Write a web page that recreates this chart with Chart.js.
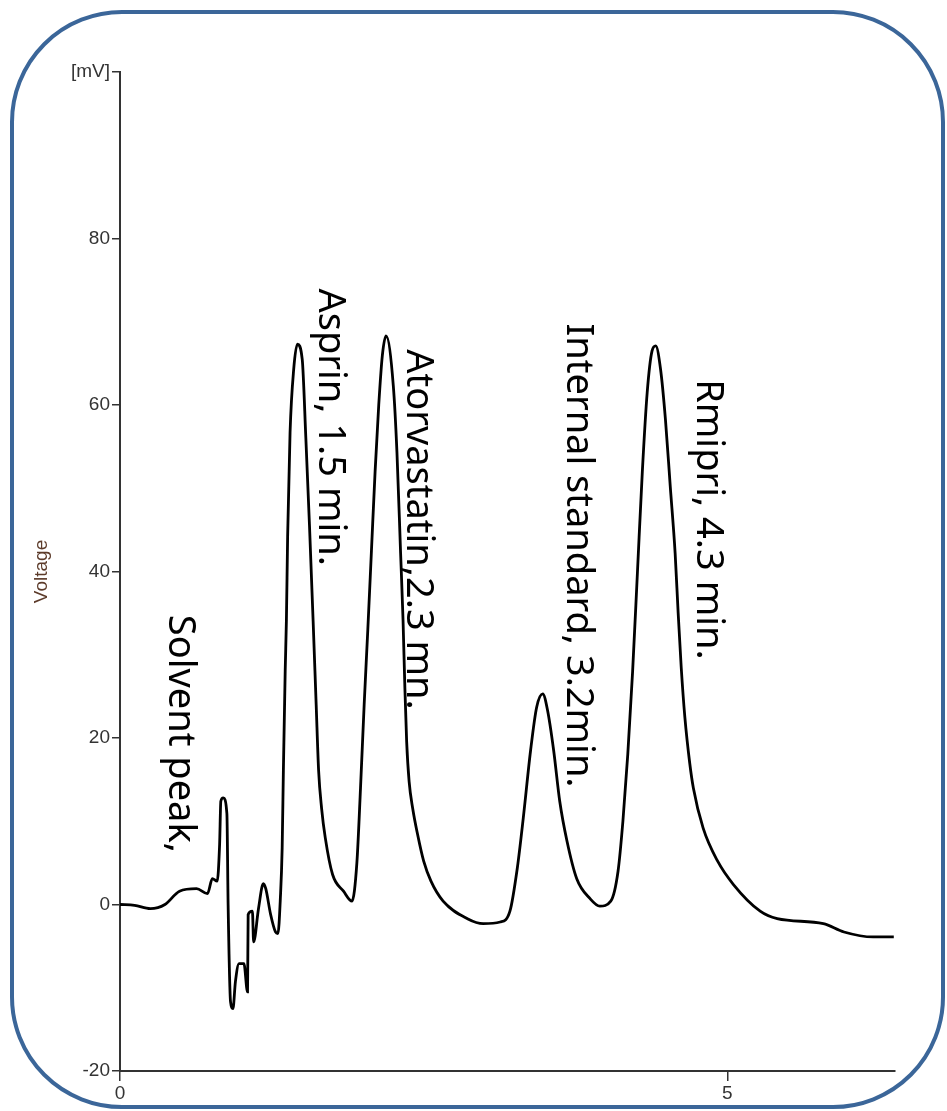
<!DOCTYPE html>
<html>
<head>
<meta charset="utf-8">
<script src="https://cdn.jsdelivr.net/npm/chart.js@4.4.0/dist/chart.umd.min.js"></script>
<style>
    html, body { margin: 0; padding: 0; background: #fff; }
    #wrap { position: relative; width: 947px; height: 1111px; }
    #marco {
        position: absolute; left: 10px; top: 10px; width: 935px; height: 1099px;
        box-sizing: border-box; border: 4px solid #3b6699; border-radius: 112px;
        pointer-events: none;
    }
</style>
</head>
<body>
<div id="wrap">
    <canvas id="grafico" width="947" height="1111"></canvas>
    <div id="marco"></div>
</div>
<script>
const tiempos = [0, 0.12, 0.25, 0.37, 0.49, 0.63, 0.72, 0.76, 0.8, 0.82, 0.83, 0.85, 0.88, 0.89, 0.91, 0.93, 0.95, 0.98, 1.02, 1.05, 1.055, 1.09, 1.1, 1.14, 1.18, 1.2, 1.24, 1.28, 1.3, 1.32, 1.335, 1.345, 1.36, 1.37, 1.38, 1.4, 1.43, 1.46, 1.5, 1.53, 1.56, 1.59, 1.615, 1.635, 1.66, 1.69, 1.75, 1.84, 1.91, 1.95, 1.98, 2.01, 2.04, 2.07, 2.1, 2.13, 2.16, 2.19, 2.25, 2.28, 2.31, 2.33, 2.345, 2.36, 2.38, 2.41, 2.45, 2.5, 2.56, 2.66, 2.86, 2.99, 3.13, 3.21, 3.27, 3.32, 3.38, 3.43, 3.48, 3.52, 3.57, 3.62, 3.68, 3.76, 3.87, 3.95, 4.04, 4.1, 4.14, 4.18, 4.22, 4.26, 4.3, 4.34, 4.38, 4.41, 4.45, 4.49, 4.53, 4.57, 4.595, 4.62, 4.65, 4.69, 4.72, 4.8, 4.92, 5.05, 5.27, 5.41, 5.79, 5.96, 6.2, 6.37];
const voltajes = [0, -0.1, -0.5, 0, 1.6, 1.9, 1.3, 3.1, 2.8, 7.2, 12.4, 12.8, 10.9, 0, -11.7, -12.5, -9.3, -7.1, -7.1, -10.5, -1.2, -0.8, -4.5, -0.5, 2.5, 1.9, -1.2, -3.3, -3.5, 0.7, 6.8, 16.1, 28.1, 34.2, 44.2, 56.7, 64.3, 67.3, 65.5, 56.0, 45.5, 34.0, 24.0, 16.1, 11.5, 8.0, 3.6, 1.6, 0.4, 5.0, 14.0, 24.0, 33.0, 42.5, 52.0, 60.0, 66.0, 68.3, 62.3, 54.3, 42.2, 34.2, 26.1, 19.5, 14.8, 11.5, 8.4, 5.2, 2.8, 0.4, -1.7, -2.3, -2.1, -0.8, 4.3, 10.4, 18.5, 23.7, 25.3, 23.3, 18.5, 12.4, 7.6, 3.1, 0.7, -0.2, 0.4, 4.0, 10.0, 18.0, 28.0, 40.0, 52.0, 61.5, 66.5, 67.1, 64.3, 58.3, 50.2, 42.2, 35.0, 28.5, 22.5, 17.0, 14.0, 9.2, 5.2, 2.4, -0.8, -1.7, -2.3, -3.3, -3.9, -3.9];

const ticksX = [0, 5];
const ticksY = [-20, 0, 20, 40, 60, 80, 100];

// anotaciones de los picos
const etiquetas = ['Solvent peak,', 'Asprin, 1.5 min.', 'Atorvastatin,2.3 mn.', 'Internal standard, 3.2min.', 'Rmipri, 4.3 min.'];
const etiquetasX = [0.49, 1.73, 2.45, 3.765, 4.84];
const etiquetasY = [34.8, 74.0, 66.7, 69.8, 63.1];

document.addEventListener('DOMContentLoaded', function() {
    const ctx = document.getElementById('grafico').getContext('2d');

    const puntos = tiempos.map((t, i) => ({ x: t, y: voltajes[i] }));

    const pluginEtiquetas = {
        id: 'etiquetas',
        afterDatasetsDraw(chart) {
            const c = chart.ctx;
            const sx = chart.scales.x;
            const sy = chart.scales.y;
            c.save();
            c.fillStyle = '#000';
            c.font = '38px "Noto Sans", "Open Sans", sans-serif';
            c.textAlign = 'left';
            c.textBaseline = 'middle';
            etiquetas.forEach((txt, i) => {
                c.save();
                c.translate(sx.getPixelForValue(etiquetasX[i]), sy.getPixelForValue(etiquetasY[i]));
                c.rotate(Math.PI / 2);
                c.fillText(txt, 0, 0);
                c.restore();
            });
            c.restore();
        }
    };

    new Chart(ctx, {
        type: 'scatter',
        data: {
            datasets: [{
                label: 'Voltage',
                data: puntos,
                showLine: true,
                borderColor: '#000',
                borderWidth: 2.8,
                pointRadius: 0,
                cubicInterpolationMode: 'monotone'
            }]
        },
        options: {
            responsive: false,
            animation: false,
            layout: { padding: { left: 0, top: 72, right: 52, bottom: 0 } },
            plugins: {
                legend: { display: false },
                tooltip: { enabled: false }
            },
            scales: {
                x: {
                    type: 'linear',
                    min: 0,
                    max: 6.38,
                    afterBuildTicks: scale => { scale.ticks = ticksX.map(v => ({ value: v })); },
                    afterFit: scale => { scale.height = 40; },
                    border: { display: true, color: '#333', width: 2 },
                    grid: { drawOnChartArea: false, drawTicks: true, tickLength: 10, color: '#333', lineWidth: 1.5 },
                    ticks: {
                        color: '#333',
                        padding: 1,
                        maxRotation: 0,
                        font: { family: '"Liberation Sans", Arial, sans-serif', size: 19 }
                    }
                },
                y: {
                    min: -20,
                    max: 100,
                    afterBuildTicks: scale => { scale.ticks = ticksY.map(v => ({ value: v })); },
                    afterFit: scale => { scale.width = 120; },
                    border: { display: true, color: '#333', width: 2 },
                    grid: { drawOnChartArea: false, drawTicks: true, tickLength: 8, color: '#333', lineWidth: 1.5 },
                    ticks: {
                        color: '#333',
                        padding: 2,
                        font: { family: '"Liberation Sans", Arial, sans-serif', size: 19 },
                        callback: v => v === 100 ? '[mV]' : v
                    },
                    title: {
                        display: true,
                        text: 'Voltage',
                        color: '#5c3b2a',
                        padding: { top: 30, bottom: 0 },
                        font: { family: '"Liberation Sans", Arial, sans-serif', size: 19 }
                    }
                }
            }
        },
        plugins: [pluginEtiquetas]
    });
});
</script>
</body>
</html>
